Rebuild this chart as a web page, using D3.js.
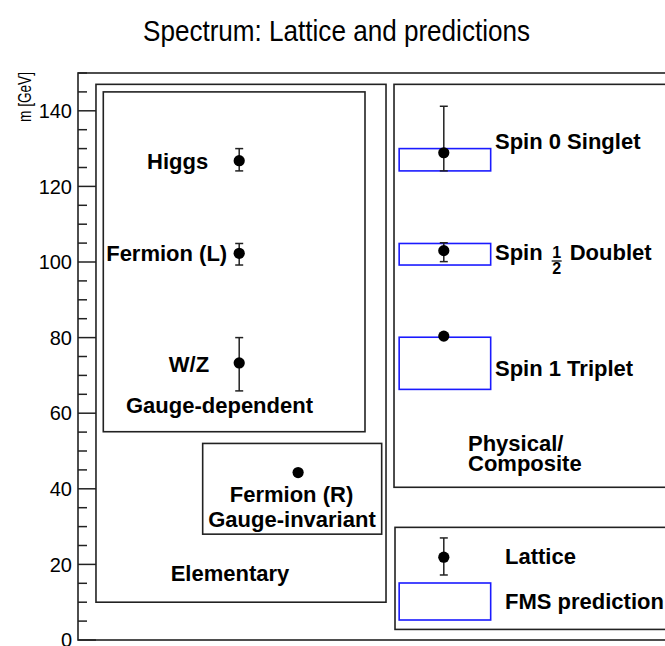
<!DOCTYPE html>
<html>
<head>
<meta charset="utf-8">
<script src="https://cdn.jsdelivr.net/npm/d3@7"></script>
<style>
  body { margin: 0; background: #fff; }
  text { font-family: "Liberation Sans", Arial, sans-serif; }
</style>
</head>
<body>
<svg id="chart" width="665" height="646"></svg>
<script>
// lattice results (mass in GeV, asymmetric errors) and their horizontal slot
const latticeNames = ["Higgs", "Fermion (L)", "W/Z", "Fermion (R)", "Spin 0 Singlet", "Spin 1/2 Doublet", "Spin 1 Triplet"];
const latticeMass = [126.8, 102.3, 73.3, 44.3, 128.9, 103.0, 80.4];
const latticeErrUp = [3.2, 2.6, 6.7, 0, 12.3, 2.1, 0];
const latticeErrDown = [2.7, 3.1, 7.4, 0, 4.8, 2.9, 0];
const latticeSlot = [26, 26, 26, 35.5, 59, 59, 59];

// FMS prediction bands (GeV)
const fmsNames = ["Spin 0 Singlet", "Spin 1/2 Doublet", "Spin 1 Triplet"];
const fmsLow = [124.1, 99.2, 66.3];
const fmsHigh = [130.0, 104.9, 80.1];

const yTicks = [0, 20, 40, 60, 80, 100, 120, 140];

const svg = d3.select("#chart");

// frame is wider than the picture, right edge is cut off
const x = d3.scaleLinear().domain([0, 100]).range([78, 698]);
const y = d3.scaleLinear().domain([0, 150]).range([640, 73]);

const ink = "#222";
const bold = "bold";

// title
svg.append("text")
  .attr("x", 336.5).attr("y", 41)
  .attr("text-anchor", "middle")
  .attr("textLength", 387).attr("lengthAdjust", "spacingAndGlyphs")
  .style("font-size", "29px")
  .text("Spectrum: Lattice and predictions");

// frame
svg.append("rect")
  .attr("x", x(0)).attr("y", y(150))
  .attr("width", x(100) - x(0)).attr("height", y(0) - y(150))
  .attr("fill", "none").attr("stroke", ink).attr("stroke-width", 1.6);

// y axis: major ticks every 20, minor every 5, drawn inward
const minor = d3.range(0, 151, 5).filter((v) => v % 20 !== 0);
svg.append("g").selectAll("line.minor")
  .data(minor).enter().append("line")
  .attr("x1", x(0)).attr("x2", x(0) + 9)
  .attr("y1", (d) => y(d)).attr("y2", (d) => y(d))
  .attr("stroke", ink).attr("stroke-width", 1.5);
svg.append("g").selectAll("line.major")
  .data(yTicks).enter().append("line")
  .attr("x1", x(0)).attr("x2", x(0) + 18)
  .attr("y1", (d) => y(d)).attr("y2", (d) => y(d))
  .attr("stroke", ink).attr("stroke-width", 1.5);
svg.append("g").selectAll("text")
  .data(yTicks).enter().append("text")
  .attr("x", 72).attr("y", (d) => y(d))
  .attr("dy", "0.36em")
  .attr("text-anchor", "end")
  .style("font-size", "20px")
  .text((d) => d);

svg.append("text")
  .attr("transform", `translate(31,${y(150) - 1}) rotate(-90)`)
  .attr("text-anchor", "end")
  .attr("textLength", 50).attr("lengthAdjust", "spacingAndGlyphs")
  .style("font-size", "18px")
  .text("m [GeV]");

// category panes (x in slot units, y in GeV)
const panes = [
  { x0: 2.9, x1: 49.68, m0: 10, m1: 147 },
  { x0: 4.08, x1: 46.29, m0: 55.1, m1: 145 },
  { x0: 20.11, x1: 48.98, m0: 28, m1: 52 },
  { x0: 50.97, x1: 102, m0: 40.4, m1: 147 },
  { x0: 51.13, x1: 102, m0: 2.8, m1: 29.8 },
];
svg.append("g").selectAll("rect")
  .data(panes).enter().append("rect")
  .attr("x", (d) => x(d.x0)).attr("y", (d) => y(d.m1))
  .attr("width", (d) => x(d.x1) - x(d.x0))
  .attr("height", (d) => y(d.m0) - y(d.m1))
  .attr("fill", "none").attr("stroke", ink).attr("stroke-width", 1.6);

// FMS bands
const bandX0 = 51.8, bandX1 = 66.56;
svg.append("g").selectAll("rect")
  .data(fmsNames).enter().append("rect")
  .attr("x", x(bandX0)).attr("width", x(bandX1) - x(bandX0))
  .attr("y", (d, i) => y(fmsHigh[i]))
  .attr("height", (d, i) => y(fmsLow[i]) - y(fmsHigh[i]))
  .attr("fill", "none").attr("stroke", "#1a1aff").attr("stroke-width", 1.6);

// lattice points with error bars
function drawPoint(g, cx, m, up, down) {
  if (up > 0 || down > 0) {
    g.append("line")
      .attr("x1", cx).attr("x2", cx)
      .attr("y1", y(m + up)).attr("y2", y(m - down))
      .attr("stroke", ink).attr("stroke-width", 1.5);
    [m + up, m - down].forEach((v) => {
      g.append("line")
        .attr("x1", cx - 4).attr("x2", cx + 4)
        .attr("y1", y(v)).attr("y2", y(v))
        .attr("stroke", ink).attr("stroke-width", 1.5);
    });
  }
  g.append("circle").attr("cx", cx).attr("cy", y(m)).attr("r", 5.6).attr("fill", "#000");
}
const pts = svg.append("g");
latticeNames.forEach((n, i) => {
  drawPoint(pts, x(latticeSlot[i]), latticeMass[i], latticeErrUp[i], latticeErrDown[i]);
});

// labels
function label(tx, ty, s, anchor, size) {
  return svg.append("text")
    .attr("x", tx).attr("y", ty).attr("dy", "0.36em")
    .attr("text-anchor", anchor || "start")
    .style("font-size", (size || 22) + "px")
    .style("font-weight", bold)
    .text(s);
}
label(x(latticeSlot[0]) - 31, y(latticeMass[0]), "Higgs", "end");
label(x(latticeSlot[1]) - 12, y(latticeMass[1]), "Fermion (L)", "end");
label(x(latticeSlot[2]) - 30, y(latticeMass[2]) + 1, "W/Z", "end");
label(219.5, 405, "Gauge-dependent", "middle");
label(291.5, 494, "Fermion (R)", "middle");
label(292, 519, "Gauge-invariant", "middle");
label(230, 573, "Elementary", "middle");

const specX = 495;
label(specX, 141, "Spin 0 Singlet");
label(specX, 368, "Spin 1 Triplet");
// spin 1/2 with stacked fraction
const spin = label(specX, 252, "Spin");
const fx = specX + spin.node().getComputedTextLength() + 14;
svg.append("text").attr("x", fx).attr("y", 258).attr("text-anchor", "middle")
  .style("font-size", "16px").style("font-weight", bold).text("1");
svg.append("line").attr("x1", fx - 5).attr("x2", fx + 5).attr("y1", 261).attr("y2", 261)
  .attr("stroke", "#000").attr("stroke-width", 1.2);
svg.append("text").attr("x", fx).attr("y", 274).attr("text-anchor", "middle")
  .style("font-size", "16px").style("font-weight", bold).text("2");
label(fx + 13, 252, "Doublet");

label(468, 443, "Physical/");
label(468, 463, "Composite");

// legend
drawPoint(svg.append("g"), x(59), 21.9, 5.1, 4.7);
label(505, 556, "Lattice");
svg.append("rect")
  .attr("x", x(bandX0)).attr("width", x(bandX1) - x(bandX0))
  .attr("y", 583).attr("height", 37)
  .attr("fill", "none").attr("stroke", "#1a1aff").attr("stroke-width", 1.6);
label(505, 601.5, "FMS prediction");
</script>
</body>
</html>
